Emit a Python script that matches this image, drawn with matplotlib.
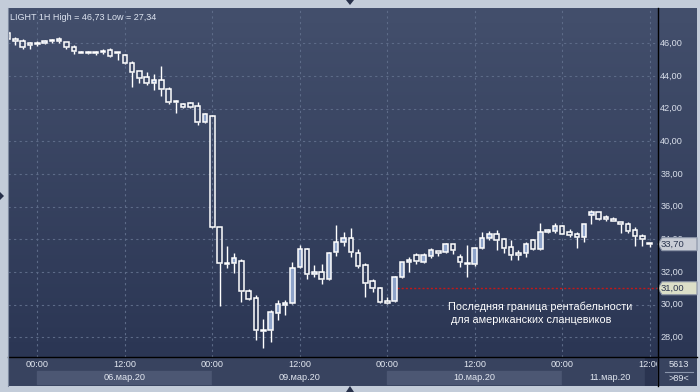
import numpy as np
import matplotlib
matplotlib.use('Agg')
import matplotlib.pyplot as plt
from matplotlib.patches import Rectangle, Polygon
from matplotlib.colors import LinearSegmentedColormap
from matplotlib.transforms import blended_transform_factory

# ---------------- data (hourly candles, index 0 = 06.03 00:00) ----------------
idx = list(range(-4, 85))
opens = [46.65, 46.25, 46.16, 46.04, 45.98, 46.00, 46.12, 46.16, 46.08, 45.79,
         45.49, 45.47, 45.49, 45.45, 45.59, 45.44, 45.28, 44.79, 44.30, 43.92,
         43.55, 43.73, 43.20, 42.44, 42.28, 42.33, 42.16, 41.16, 41.55, 34.73,
         32.57, 32.53, 32.67, 30.83, 30.38, 28.45, 28.42, 29.50, 30.00, 30.08,
         32.30, 33.40, 31.85, 31.98, 31.55, 33.20, 33.81, 34.06, 33.14, 32.41,
         31.43, 31.00, 30.20, 30.22, 31.67, 32.61, 33.04, 32.63, 32.99, 33.28,
         33.20, 33.69, 32.89, 32.57, 32.47, 33.45, 34.06, 34.30, 34.00, 33.50,
         33.18, 33.14, 33.95, 33.40, 34.43, 34.51, 34.81, 34.46, 34.32, 34.11,
         35.46, 35.66, 35.34, 35.22, 35.04, 34.93, 34.57, 34.20, 33.79]
highs = [46.73, 46.39, 46.26, 46.06, 46.16, 46.22, 46.26, 46.37, 46.10, 45.91,
         45.55, 45.52, 45.50, 45.67, 45.71, 45.45, 45.35, 44.93, 44.32, 44.22,
         44.12, 44.61, 43.32, 42.53, 42.33, 42.42, 42.41, 41.75, 41.62, 34.75,
         33.58, 33.17, 32.77, 30.95, 30.59, 29.11, 29.67, 30.28, 30.28, 32.58,
         33.65, 33.45, 32.43, 32.47, 33.24, 34.87, 34.43, 34.71, 33.39, 32.56,
         31.55, 31.10, 30.45, 31.75, 32.62, 32.91, 33.14, 33.14, 33.45, 33.30,
         33.75, 33.72, 33.08, 33.65, 33.50, 34.43, 34.51, 34.57, 34.05, 33.95,
         33.34, 33.85, 34.00, 35.01, 34.63, 34.97, 34.85, 34.60, 34.46, 34.95,
         35.82, 35.68, 35.46, 35.38, 35.06, 35.08, 34.73, 34.30, 33.80]
lows = [46.25, 45.91, 45.67, 45.63, 45.83, 45.98, 46.04, 46.02, 45.67, 45.33,
        45.39, 45.35, 45.27, 45.33, 45.18, 44.98, 44.76, 43.31, 43.59, 43.43,
        43.14, 42.79, 42.30, 41.75, 42.02, 42.02, 41.02, 41.14, 34.70, 29.92,
        32.26, 31.95, 30.17, 30.30, 27.83, 27.34, 27.73, 29.06, 29.36, 30.05,
        32.22, 31.57, 31.69, 31.26, 31.50, 33.00, 33.61, 32.91, 32.26, 30.45,
        30.75, 30.08, 30.02, 30.14, 31.65, 32.01, 32.47, 32.53, 32.87, 32.99,
        33.18, 33.10, 32.32, 31.71, 32.38, 33.40, 33.96, 33.34, 33.14, 32.75,
        32.73, 32.93, 33.34, 33.34, 34.39, 34.36, 34.30, 34.11, 33.48, 33.85,
        34.93, 35.20, 35.11, 35.10, 34.36, 34.36, 33.61, 33.61, 33.51]
closes = [46.28, 46.12, 45.77, 45.88, 46.04, 46.14, 46.18, 46.25, 45.75, 45.51,
          45.43, 45.41, 45.39, 45.55, 45.22, 45.38, 44.78, 44.26, 43.89, 43.59,
          43.73, 43.18, 42.39, 42.40, 42.10, 42.12, 41.16, 41.67, 34.73, 32.53,
          32.48, 32.83, 30.81, 30.36, 28.42, 28.38, 29.53, 30.02, 30.08, 32.25,
          33.39, 31.85, 31.98, 31.55, 33.14, 33.81, 34.06, 33.20, 32.38, 31.34,
          31.00, 30.18, 30.08, 31.71, 32.59, 32.73, 32.67, 33.04, 33.32, 33.14,
          33.71, 33.34, 32.59, 32.47, 33.45, 34.06, 34.30, 33.96, 33.48, 33.02,
          33.04, 33.71, 33.40, 34.46, 34.57, 34.81, 34.32, 34.26, 34.11, 34.91,
          35.66, 35.26, 35.22, 35.12, 34.93, 34.53, 34.20, 34.00, 33.70]

price_ticks = [28, 30, 32, 34, 36, 38, 40, 42, 44, 46]
time_ticks = [0, 12, 24, 36, 48, 60, 72, 84]
time_labels = ['00:00', '12:00', '00:00', '12:00', '00:00', '12:00', '00:00', '12:00']
date_labels = ['06.мар.20', '09.мар.20', '10.мар.20', '11.мар.20']
date_spans = [(0, 24), (24, 48), (48, 72), (72, 85)]
last_price = 33.70
level_price = 31.00
title = 'LIGHT 1H High = 46,73 Low = 27,34'
note = 'Последняя граница рентабельности\n для американских сланцевиков'
count_top, count_bottom = '5613', '>89<'

# ---------------- layout helpers ----------------
W, H = 700, 392
plt.rcParams['font.family'] = ['Liberation Sans', 'DejaVu Sans']
fig = plt.figure(figsize=(7, 3.92), dpi=100)
fig.patch.set_facecolor('#c3ccd9')


def box(x0, y0, x1, y1):
    return [x0 / W, 1 - y1 / H, (x1 - x0) / W, (y1 - y0) / H]


def fpt(x, y):
    return (x / W, 1 - y / H)


grad_cmap = LinearSegmentedColormap.from_list('bg', ['#434f6c', '#2b3654'])
grad = np.linspace(0, 1, 256).reshape(-1, 1)

XL = (-4.02, 85.0)
YL = (26.79, 48.16)

# right price panel
axr = fig.add_axes(box(657, 8, 697, 357))
axr.imshow(grad, aspect='auto', cmap=grad_cmap, extent=[0, 1, 0, 1])
axr.set_axis_off()

# bottom time panel
axb = fig.add_axes(box(8, 357, 657, 386))
axb.set_xlim(*XL)
axb.set_ylim(0, 1)
axb.add_patch(Rectangle((XL[0], 0), XL[1] - XL[0], 1, color='#38435f', zorder=0))
for k, (a, b) in enumerate(date_spans):
    col = '#4c5773' if k % 2 == 0 else '#38435f'
    axb.add_patch(Rectangle((a, 0.06), b - a, 0.46, color=col, zorder=1))
axb.add_patch(Rectangle((83.4, 0.0), 1.6, 1.0, color='#2a3450', zorder=1))
for t, lab in zip(time_ticks, time_labels):
    axb.text(t, 0.73, lab, ha='center', va='center', color='#e2e7f0',
             fontsize=6.6, clip_on=True, zorder=3)
for (a, b), lab in zip(date_spans, date_labels):
    axb.text((a + b) / 2, 0.29, lab, ha='center', va='center', color='#e2e7f0',
             fontsize=6.6, clip_on=True, zorder=3)
axb.set_axis_off()

# corner panel
axc = fig.add_axes(box(657, 357, 697, 386))
axc.set_xlim(0, 1)
axc.set_ylim(0, 1)
axc.add_patch(Rectangle((0, 0), 1, 1, color='#38435f'))
axc.text(0.55, 0.75, count_top, ha='center', va='center', color='#e2e7f0', fontsize=6.6)
axc.text(0.55, 0.25, count_bottom, ha='center', va='center', color='#e2e7f0', fontsize=6.6)
axc.plot([0.2, 0.9], [0.5, 0.5], color='#8a95ab', lw=0.8)
axc.set_axis_off()

# main chart
ax = fig.add_axes(box(8, 8, 657, 357))
ax.set_xlim(*XL)
ax.set_ylim(*YL)
ax.imshow(grad, aspect='auto', cmap=grad_cmap, extent=[XL[0], XL[1], YL[0], YL[1]], zorder=0)
ax.set_axis_off()

grid_kw = dict(color='#5d6b88', lw=0.8, ls=(0, (2, 3)), zorder=1)
for p in price_ticks:
    ax.axhline(p, **grid_kw)
for t in time_ticks:
    ax.axvline(t, **grid_kw)

x = np.array(idx, dtype=float)
o = np.array(opens)
h = np.array(highs)
l = np.array(lows)
c = np.array(closes)
top = np.maximum(o, c)
bot = np.minimum(o, c)
hgt = np.maximum(top - bot, 0.05)
up = c > o
ax.vlines(x, top, h, color='white', lw=1.0, zorder=3)
ax.vlines(x, l, bot, color='white', lw=1.0, zorder=3)
ax.bar(x[up], hgt[up], bottom=bot[up], width=0.62, facecolor='#8ea3c9',
       edgecolor='white', linewidth=1.1, zorder=4)
ax.bar(x[~up], hgt[~up], bottom=bot[~up], width=0.62, facecolor='none',
       edgecolor='white', linewidth=1.1, zorder=4)

# resistance/support line
ax.plot([49.4, XL[1]], [level_price, level_price], color='#c41818', lw=1.0,
        ls=(0, (1.5, 1.5)), zorder=2)
ax.text(56.3, 29.45, note, ha='left', va='center', color='white', fontsize=7.8,
        linespacing=1.35, zorder=5)

ax.text(0.003, 0.985, title, transform=ax.transAxes, ha='left', va='top',
        color='#dde4f0', fontsize=6.5, zorder=5)

# price labels on right
tr = blended_transform_factory(ax.transAxes, ax.transData)
for p in price_ticks:
    ax.text(1.005, p, f'{p:.2f}'.replace('.', ','), transform=tr, ha='left', va='center',
            color='#d9dfea', fontsize=6.6, clip_on=False, zorder=6)


def price_tag(price, fc, ec):
    ypx = ax.transData.transform((0, price))[1]
    yc = H - ypx * H / fig.bbox.height
    pts = [fpt(658, yc), fpt(662, yc - 6.5), fpt(697, yc - 6.5), fpt(697, yc + 6.5), fpt(662, yc + 6.5)]
    fig.patches.append(Polygon(pts, closed=True, transform=fig.transFigure, facecolor=fc,
                               edgecolor=ec, lw=0.8, zorder=10))
    fig.text(661 / W, 1 - yc / H, f'{price:.2f}'.replace('.', ','), ha='left', va='center',
             color='#2c3650', fontsize=6.8, zorder=11)


price_tag(last_price, '#c9cdd6', '#8a93a6')
price_tag(level_price, '#dcdfc8', '#8a93a6')

# frame lines
fig.add_artist(plt.Line2D([657.5 / W, 657.5 / W], [fpt(0, 8)[1], fpt(0, 386)[1]],
                          color='black', lw=1.0, transform=fig.transFigure, zorder=12))
fig.add_artist(plt.Line2D([8 / W, 697 / W], [fpt(0, 356.8)[1]] * 2,
                          color='black', lw=1.0, transform=fig.transFigure, zorder=12))
fig.add_artist(plt.Line2D([7.5 / W, 7.5 / W], [fpt(0, 8)[1], fpt(0, 386)[1]],
                          color='#7e8aa0', lw=0.8, transform=fig.transFigure, zorder=12))

# UI triangles on the frame
for pts in ([(346, 0), (354, 0), (350, 5)], [(346, 392), (354, 392), (350, 386)],
            [(0, 192), (0, 200), (4, 196)]):
    fig.patches.append(Polygon([fpt(*p) for p in pts], closed=True,
                               transform=fig.transFigure, facecolor='#27304a',
                               edgecolor='none', zorder=12))

fig.savefig('out.png', dpi=100, facecolor=fig.get_facecolor())
